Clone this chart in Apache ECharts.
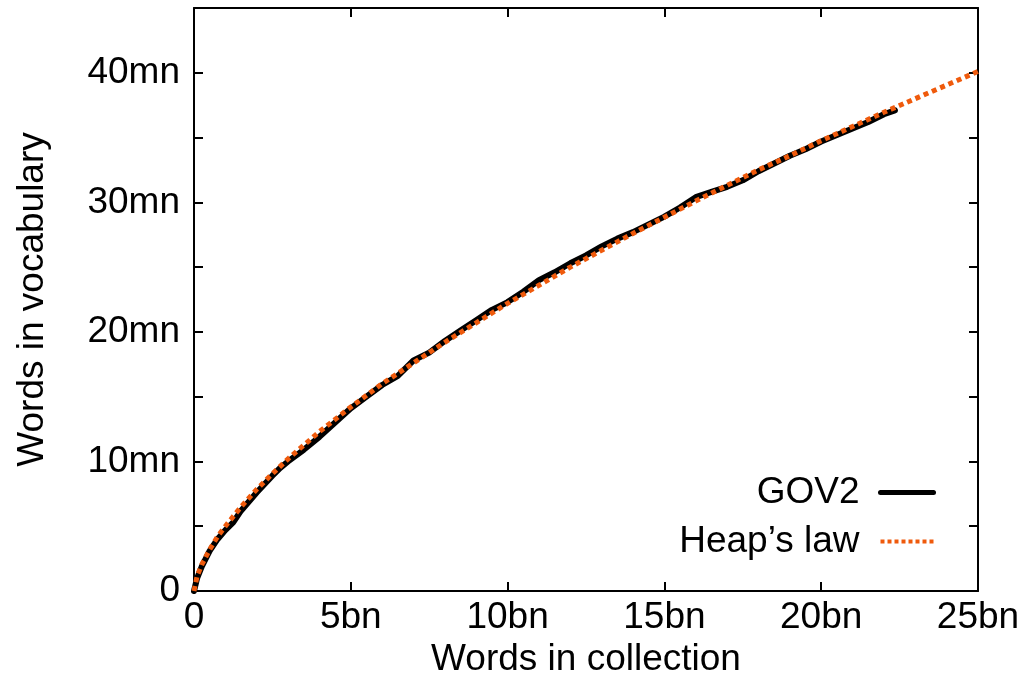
<!DOCTYPE html>
<html>
<head>
<meta charset="utf-8">
<title>Vocabulary growth</title>
<script src="https://cdn.jsdelivr.net/npm/echarts@6/dist/echarts.min.js"></script>
<style>
  html, body { margin: 0; padding: 0; background: #fff; }
  #chart { width: 1018px; height: 674px; }
</style>
</head>
<body>
<div id="chart"></div>
<script>
// Collection size in billions of words, vocabulary size in millions of words.
const gov2X = [0, 0.1, 0.25, 0.5, 0.75, 1, 1.25, 1.5, 2, 2.5, 2.75, 3, 3.5, 4, 4.5, 5, 5.5, 6, 6.5, 7,
  7.5, 8, 8.5, 9, 9.5, 10, 10.5, 11, 11.5, 12, 12.5, 13, 13.5, 14, 14.5, 15, 15.5, 16, 16.5, 17,
  17.5, 18, 18.5, 19, 19.5, 20, 20.5, 21, 21.5, 22, 22.35];
const gov2Y = [0, 1.0, 1.9, 3.1, 4.0, 4.7, 5.3, 6.2, 7.6, 8.9, 9.5, 10.0, 10.9, 11.9, 13.0, 14.1, 15.0, 15.9, 16.6, 17.8,
  18.4, 19.3, 20.1, 20.9, 21.7, 22.3, 23.1, 24.0, 24.6, 25.3, 25.9, 26.6, 27.2, 27.7, 28.3, 28.9, 29.6, 30.4, 30.8, 31.2,
  31.7, 32.4, 33.0, 33.6, 34.1, 34.7, 35.2, 35.7, 36.2, 36.8, 37.1];

const heapsX = [0, 0.1, 0.25, 0.5, 0.75, 1, 1.5, 2, 2.5, 3, 4, 5, 6, 7, 8, 9, 10, 11, 12, 13,
  14, 15, 16, 17, 18, 19, 20, 21, 22, 23, 24, 25];
const heapsY = [0, 1.15, 2.05, 3.2, 4.2, 5.0, 6.5, 7.85, 9.05, 10.2, 12.3, 14.2, 16.0, 17.6, 19.2, 20.7, 22.2, 23.6, 25.0, 26.3,
  27.6, 28.85, 30.1, 31.3, 32.5, 33.6, 34.75, 35.85, 36.95, 38.0, 39.05, 40.1];

const xTicks = { min: 0, max: 25, step: 5, unit: 'bn' };
const yTicks = { min: 0, max: 45, step: 5, labelStep: 10, unit: 'mn' };

const seriesNames = ['GOV2', 'Heap\u2019s law'];

const FONT = '"Liberation Sans", Arial, Helvetica, sans-serif';
const FONT_SIZE = 37;
const INK = '#000';
const ORANGE = '#ef5a0c';

function pairs(xs, ys) { return xs.map((x, i) => [x, ys[i]]); }

function fmt(unit) {
  return v => (v === 0 ? '0' : v + unit);
}

const tickCommon = { show: true, inside: true, length: 9, lineStyle: { color: INK, width: 2 } };
const lineCommon = { show: true, onZero: false, lineStyle: { color: INK, width: 2 } };

const chart = echarts.init(document.getElementById('chart'), null, { renderer: 'canvas' });

chart.setOption({
  animation: false,
  backgroundColor: '#fff',
  grid: { left: 194, top: 8, right: 40, bottom: 83, containLabel: false, outerBoundsMode: 'none' },
  legend: {
    orient: 'vertical',
    align: 'right',
    right: 82,
    top: 474,
    padding: 0,
    itemWidth: 53,
    itemHeight: 14,
    itemGap: 12,
    textStyle: { fontFamily: FONT, fontSize: FONT_SIZE, color: INK, padding: [0, 16, 0, 0] },
    data: [
      { name: seriesNames[0], itemStyle: { opacity: 0 }, lineStyle: { width: 5, type: 'solid' } },
      { name: seriesNames[1], itemStyle: { opacity: 0 }, lineStyle: { width: 4, type: [4, 3] } }
    ]
  },
  xAxis: [{
    type: 'value',
    min: xTicks.min, max: xTicks.max, interval: xTicks.step,
    name: 'Words in collection',
    nameLocation: 'middle',
    nameGap: 48,
    nameTextStyle: { fontFamily: FONT, fontSize: FONT_SIZE, color: INK },
    axisLine: lineCommon,
    axisTick: tickCommon,
    splitLine: { show: false },
    axisLabel: { fontFamily: FONT, fontSize: FONT_SIZE, color: INK, margin: 8, formatter: fmt(xTicks.unit) }
  }, {
    type: 'value', position: 'top',
    min: xTicks.min, max: xTicks.max, interval: xTicks.step,
    axisLine: lineCommon, axisTick: tickCommon,
    splitLine: { show: false }, axisLabel: { show: false }
  }],
  yAxis: [{
    type: 'value',
    min: yTicks.min, max: yTicks.max, interval: yTicks.step,
    name: 'Words in vocabulary',
    nameLocation: 'middle',
    nameGap: 143,
    nameTextStyle: { fontFamily: FONT, fontSize: FONT_SIZE, color: INK },
    axisLine: lineCommon,
    axisTick: tickCommon,
    splitLine: { show: false },
    axisLabel: {
      fontFamily: FONT, fontSize: FONT_SIZE, color: INK, margin: 14,
      formatter: v => (v % yTicks.labelStep === 0 && v < yTicks.max ? fmt(yTicks.unit)(v) : '')
    }
  }, {
    type: 'value', position: 'right',
    min: yTicks.min, max: yTicks.max, interval: yTicks.step,
    axisLine: lineCommon, axisTick: tickCommon,
    splitLine: { show: false }, axisLabel: { show: false }
  }],
  series: [{
    name: seriesNames[0],
    type: 'line',
    data: pairs(gov2X, gov2Y),
    showSymbol: false,
    symbol: 'none',
    lineStyle: { color: INK, width: 6, cap: 'round', join: 'round' },
    itemStyle: { color: INK },
    z: 2
  }, {
    name: seriesNames[1],
    type: 'line',
    data: pairs(heapsX, heapsY),
    showSymbol: false,
    symbol: 'none',
    lineStyle: { color: ORANGE, width: 5, type: [5, 4], cap: 'butt' },
    itemStyle: { color: ORANGE },
    z: 3
  }]
});
</script>
</body>
</html>
